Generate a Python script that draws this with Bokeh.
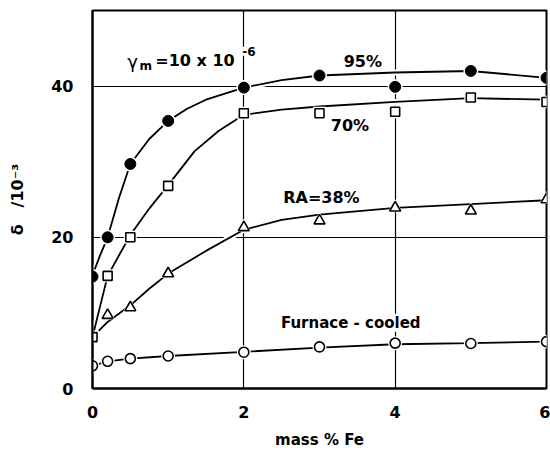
from bokeh.plotting import figure
from bokeh.models import Label, FixedTicker, Range1d
from bokeh.embed import file_html
from bokeh.resources import INLINE

# ---- data ----
fe = [0, 0.2, 0.5, 1, 2, 3, 4, 5, 6]
d95 = [14.8, 20.0, 29.7, 35.4, 39.8, 41.4, 39.9, 42.0, 41.1]
d70 = [6.8, 14.9, 20.0, 26.8, 36.4, 36.4, 36.6, 38.5, 37.9]
fe_ra = [0.2, 0.5, 1, 2, 3, 4, 5, 6]
ra38 = [9.7, 10.7, 15.2, 21.3, 22.2, 23.9, 23.5, 25.0]
furnace = [3.0, 3.6, 3.95, 4.3, 4.8, 5.5, 6.0, 5.95, 6.2]

# fitted (hand-drawn) curves
c95_x = [0, 0.1, 0.2, 0.35, 0.5, 0.75, 1, 1.25, 1.5, 2, 2.5, 3, 4, 5, 6]
c95_y = [15.0, 17.6, 20.0, 25.2, 29.7, 33.0, 35.4, 37.0, 38.2, 39.8, 40.8, 41.4, 41.8, 42.0, 41.1]
c70_x = [0, 0.2, 0.5, 0.75, 1, 1.35, 1.67, 2, 2.5, 3, 4, 5, 6]
c70_y = [6.8, 14.9, 20.3, 23.8, 26.9, 31.4, 34.1, 36.2, 36.9, 37.3, 37.9, 38.4, 38.2]
cra_x = [0, 0.2, 0.5, 0.75, 1, 1.5, 2, 2.5, 3, 4, 5, 6]
cra_y = [6.8, 8.8, 11.0, 13.2, 15.2, 18.2, 21.0, 22.3, 23.0, 23.9, 24.4, 24.9]
cfc_x = [0, 0.2, 0.5, 1, 2, 3, 4, 5, 6]
cfc_y = [3.0, 3.6, 3.95, 4.3, 4.85, 5.4, 5.85, 6.0, 6.2]

x_ticks = [0, 2, 4, 6]
y_ticks = [0, 20, 40]
x_grid = [2, 4]
y_grid = [20, 40]

FONT = "DejaVu Sans"

p = figure(width=550, height=452, x_range=Range1d(0, 6), y_range=Range1d(0, 50),
           output_backend="svg", toolbar_location=None,
           min_border_left=92, min_border_right=4, min_border_top=10, min_border_bottom=64)
p.background_fill_color = "white"
p.border_fill_color = "white"
p.outline_line_color = "black"
p.outline_line_width = 2
p.outline_line_alpha = 1.0

for ax, ticks in ((p.xaxis, x_ticks), (p.yaxis, y_ticks)):
    ax.ticker = FixedTicker(ticks=ticks)
    ax.major_tick_in = 0
    ax.major_tick_out = 0
    ax.minor_tick_in = 0
    ax.minor_tick_out = 0
    ax.axis_line_width = 2
    ax.axis_line_color = "black"
    ax.major_label_text_font = FONT
    ax.major_label_text_font_size = "16px"
    ax.major_label_text_font_style = "bold"
    ax.major_label_text_color = "black"
    ax.axis_label_text_font = FONT
    ax.axis_label_text_font_size = "16px"
    ax.axis_label_text_font_style = "bold"
    ax.axis_label_text_color = "black"

p.xaxis.major_label_standoff = 17
p.yaxis.major_label_standoff = 19
p.xaxis.axis_label = "mass % Fe"
p.xaxis.axis_label_text_font_size = "15px"
p.xaxis.axis_label_standoff = 10
p.yaxis.axis_label = "δ\u00a0\u00a0\u00a0/10⁻³"
p.yaxis.axis_label_standoff = 21

p.xgrid.ticker = FixedTicker(ticks=x_grid)
p.ygrid.ticker = FixedTicker(ticks=y_grid)
for g in (p.xgrid, p.ygrid):
    g.grid_line_color = "black"
    g.grid_line_width = 1.2
    g.grid_line_alpha = 1.0

curves = [(c95_x, c95_y), (c70_x, c70_y), (cra_x, cra_y), (cfc_x, cfc_y)]
for cx, cy in curves:
    p.line(cx, cy, line_color="white", line_width=6)
for cx, cy in curves:
    p.line(cx, cy, line_color="black", line_width=1.8)

# marker halos
p.scatter(fe, d95, marker="circle", size=15, fill_color="white", line_color=None)
p.scatter(fe, d70, marker="square", size=13, fill_color="white", line_color=None)
p.scatter(fe_ra, ra38, marker="triangle", size=15, fill_color="white", line_color=None)
p.scatter(fe, furnace, marker="circle", size=14, fill_color="white", line_color=None)

p.scatter(fe, d95, marker="circle", size=11, fill_color="black", line_color="black")
p.scatter(fe, d70, marker="square", size=9, fill_color="white", line_color="black", line_width=1.6)
p.scatter(fe_ra, ra38, marker="triangle", size=11, fill_color="white", line_color="black", line_width=1.6)
p.scatter(fe, furnace, marker="circle", size=10, fill_color="white", line_color="black", line_width=1.6)

# in-plot annotations: x, y, text, size, style, white background
labels = [
    (0.46, 43.3, "γ", "18px", "normal", True),
    (0.62, 42.6, "m", "12px", "bold", True),
    (0.83, 43.4, "=10 x 10", "16px", "bold", True),
    (1.98, 44.6, "-6", "12px", "bold", True),
    (3.32, 43.3, "95%", "16px", "bold", False),
    (3.15, 34.8, "70%", "16px", "bold", False),
    (2.52, 25.3, "RA=38%", "16px", "bold", False),
    (2.49, 8.7, "Furnace - cooled", "15px", "bold", True),
]
for x, y, t, fs, st, bg in labels:
    lab = Label(x=x, y=y, text=t, text_font=FONT, text_font_size=fs,
                text_font_style=st, text_color="black",
                text_align="left", text_baseline="middle")
    if bg:
        lab.background_fill_color = "white"
        lab.background_fill_alpha = 1.0
    p.add_layout(lab)

open("out.html", "w").write(file_html(p, INLINE))
